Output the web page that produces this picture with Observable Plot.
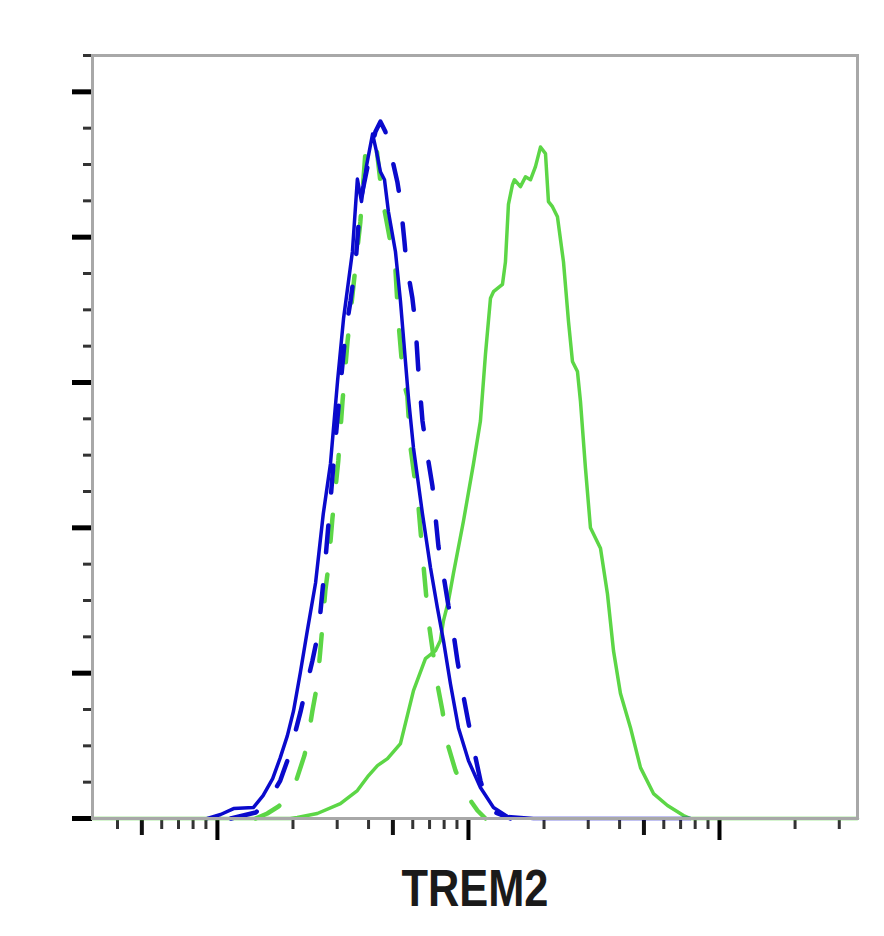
<!DOCTYPE html>
<html>
<head>
<meta charset="utf-8">
<script src="https://cdn.jsdelivr.net/npm/d3@7"></script>
<script src="https://cdn.jsdelivr.net/npm/@observablehq/plot@0.6"></script>
<style>
  html, body { margin: 0; padding: 0; background: #fff; }
  #chart svg { display: block; }
</style>
</head>
<body>
<div id="chart"></div>
<script>
// ---- axis ticks ----
const xMajor = [100, 1000, 10000];
const xMedium = [50, 500, 5000];
const xMinor = [40, 60, 70, 80, 90, 200, 300, 400, 600, 700, 800, 900,
  2000, 3000, 4000, 6000, 7000, 8000, 9000, 20000, 30000];
const yMajor = [0, 20, 40, 60, 80, 100];
const yMinor = [5, 10, 15, 25, 30, 35, 45, 50, 55, 65, 70, 75, 85, 90, 95, 105];
const xLabel = "TREM2";

// ---- series (fluorescence intensity, count) ----
const greenSolidX = [31.8, 195, 208, 250, 309, 361, 400, 434, 476, 536, 604, 674, 739, 773, 795, 832, 871, 955, 1047, 1116, 1169, 1224, 1258, 1366, 1404, 1443, 1497, 1525, 1611, 1687, 1766, 1849, 1936, 2027, 2083, 2161, 2262, 2391, 2503, 2596, 2718, 2794, 2925, 3062, 3357, 3579, 3782, 4032, 4420, 4845, 5458, 6206, 7188, 7664, 35460];
const greenSolidY = [0, 0, 0.14, 0.69, 2.06, 3.85, 5.91, 7.28, 8.24, 10.3, 17.6, 22.0, 23.1, 24.5, 27.2, 29.9, 33.7, 40.9, 48.8, 54.7, 63.9, 71.6, 72.5, 73.5, 76.6, 84.5, 87.2, 87.9, 86.95, 88.3, 87.9, 89.7, 92.4, 91.5, 84.9, 84.2, 82.8, 76.6, 68.4, 62.9, 61.5, 57.4, 48.2, 40.0, 37.2, 30.9, 23.1, 17.2, 12.5, 7.0, 3.43, 1.79, 0.41, 0, 0];

const greenDashX = [142, 158, 175, 192, 206, 222, 228, 239, 250, 257, 262, 269, 277, 287, 303, 315, 330, 348, 371, 389, 407, 430, 454, 480, 512, 526, 551, 571, 587, 632, 662, 693, 725, 752, 788, 825, 888, 946, 1019, 1086, 1169];
const greenDashY = [0, 0.69, 1.65, 2.88, 5.22, 8.65, 10.4, 14.8, 18.5, 23.1, 26.5, 31.3, 34.8, 41.2, 49.2, 57.4, 65.7, 73.2, 82.1, 91.8, 93.5, 92.4, 85.3, 80.8, 75.5, 68.4, 60.2, 58.1, 51.2, 43.0, 34.8, 27.2, 22.4, 18.5, 14.8, 10.3, 6.59, 4.26, 2.47, 1.1, 0];

const blueDashX = [113, 142, 160, 178, 190, 205, 214, 224, 239, 253, 269, 282, 295, 309, 324, 339, 355, 371, 400, 426, 446, 467, 489, 521, 536, 556, 566, 598, 615, 632, 656, 687, 719, 759, 802, 832, 863, 904, 946, 1000, 1057, 1116, 1180, 1281, 1470];
const blueDashY = [0, 0.82, 2.47, 5.22, 7.97, 12.1, 14.6, 17.6, 21.7, 25.8, 35.4, 43.7, 51.9, 59.5, 67.0, 71.2, 76.4, 84.9, 90.4, 94.5, 95.9, 94.5, 91.8, 87.6, 84.9, 79.4, 76.4, 71.6, 68.0, 61.5, 54.7, 49.9, 45.7, 37.5, 32.7, 29.3, 26.5, 21.7, 17.6, 13.2, 9.07, 5.22, 2.47, 0.82, 0];

const blueSolidX = [91.2, 103, 116, 139, 152, 166, 178, 190, 201, 214, 228, 246, 264, 282, 301, 318, 345, 361, 375, 392, 415, 430, 446, 463, 480, 512, 536, 561, 577, 604, 656, 706, 752, 795, 848, 912, 1000, 1116, 1258, 1430, 1815, 7664];
const blueSolidY = [0, 0.55, 1.37, 1.51, 3.16, 5.49, 8.38, 11.4, 14.8, 20.1, 25.8, 32.4, 41.9, 48.8, 60.2, 68.8, 78.0, 88.0, 84.9, 89.7, 94.2, 91.8, 89.0, 87.9, 83.5, 78.0, 71.2, 62.9, 57.8, 51.0, 41.9, 34.5, 29.0, 24.5, 18.5, 12.5, 7.97, 4.26, 1.51, 0.27, 0, 0];

const GREEN = "#5cd646";
const BLUE = "#0a0acc";

const toRows = (xs, ys) => xs.map((x, i) => ({x, y: ys[i]}));
const greenSolid = toRows(greenSolidX, greenSolidY);
const greenDash = toRows(greenDashX, greenDashY);
const blueDash = toRows(blueDashX, blueDashY);
const blueSolid = toRows(blueSolidX, blueSolidY);

const noText = () => "";

const chart = Plot.plot({
  width: 884,
  height: 936,
  marginLeft: 92,
  marginRight: 27,
  marginTop: 55,
  marginBottom: 118,
  style: {background: "#fff"},
  x: {type: "log", domain: [31.8, 35460], axis: null},
  y: {domain: [0, 105], axis: null},
  marks: [
    Plot.axisX(xMinor, {tickSize: 11, tickFormat: noText, label: null, stroke: "#333", strokeWidth: 3}),
    Plot.axisX(xMedium, {tickSize: 17, tickFormat: noText, label: null, stroke: "#111", strokeWidth: 4}),
    Plot.axisX(xMajor, {tickSize: 22, tickFormat: noText, label: null, stroke: "#000", strokeWidth: 4}),
    Plot.axisY(yMinor, {tickSize: 9, tickFormat: noText, label: null, stroke: "#333", strokeWidth: 3}),
    Plot.axisY(yMajor, {tickSize: 20, tickFormat: noText, label: null, stroke: "#000", strokeWidth: 5}),
    Plot.line(greenSolid, {x: "x", y: "y", stroke: GREEN, strokeWidth: 3.5}),
    Plot.line(greenDash, {x: "x", y: "y", stroke: GREEN, strokeWidth: 4.5, strokeDasharray: "27 33"}),
    Plot.line(blueDash, {x: "x", y: "y", stroke: BLUE, strokeWidth: 4.5, strokeDasharray: "27 33"}),
    Plot.line(blueSolid, {x: "x", y: "y", stroke: BLUE, strokeWidth: 3.5}),
    Plot.frame({stroke: "#a8a8a8", strokeWidth: 3}),
    Plot.text([xLabel], {
      frameAnchor: "bottom", dy: 87, lineAnchor: "bottom",
      text: d => d, fontSize: 51, fontWeight: "bold",
      fontFamily: "'Liberation Sans', Arial, sans-serif",
      fill: "#1a1a1a"
    })
  ]
});
document.getElementById("chart").appendChild(chart);
// condense the axis title like the reference's narrow bold face
chart.querySelectorAll("text").forEach(t => {
  if (t.textContent === xLabel) {
    t.setAttribute("textLength", 147);
    t.setAttribute("lengthAdjust", "spacingAndGlyphs");
  }
});
</script>
</body>
</html>
